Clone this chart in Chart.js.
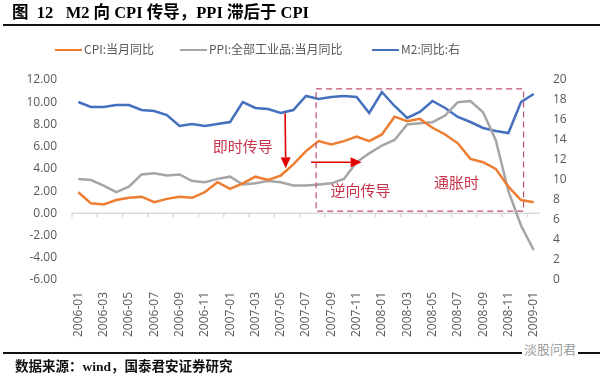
<!DOCTYPE html>
<html>
<head>
<meta charset="utf-8">
<script src="https://cdn.jsdelivr.net/npm/chart.js@4.4.0/dist/chart.umd.min.js"></script>
<style>
  body { margin: 0; background: #fff; }
  #wrap { position: relative; width: 600px; height: 374px; overflow: hidden; font-family: "Noto Sans CJK SC", sans-serif; }
  #myChart { position: absolute; left: 0; top: 0; }
  #title { position: absolute; left: 12px; top: 5px; line-height: 1; font-family: "Liberation Serif", "Noto Sans CJK SC", serif; font-weight: bold; font-size: 16.5px; color: #000; white-space: pre; }
  .rule { position: absolute; left: 3px; width: 597px; height: 2px; background: #111; }
  #legend { position: absolute; top: 40px; left: 0; width: 600px; height: 16px; font-size: 12px; color: #595959; }
  .item { position: absolute; top: 0; white-space: nowrap; }
  .swatch { display: inline-block; width: 27px; height: 2px; vertical-align: middle; margin-right: 2px; position: relative; top: -1px; }
  #source { position: absolute; left: 15px; top: 360px; line-height: 1; font-family: "Liberation Serif", "Noto Sans CJK SC", serif; font-weight: bold; font-size: 13.5px; color: #111; white-space: pre; }
  #mark { position: absolute; left: 522px; top: 339px; font-size: 13px; color: #9a9a9a; background: #fff; padding: 0 2px; }
</style>
</head>
<body>
<div id="wrap">
  <canvas id="myChart" width="600" height="374"></canvas>
  <div id="title">图  12   M2 向 CPI 传导，PPI 滞后于 CPI</div>
  <div class="rule" style="top:24px"></div>
  <div id="legend"></div>
  <div class="rule" style="top:352px"></div>
  <div id="source">数据来源：wind，国泰君安证券研究</div>
  <div id="mark">淡股问君</div>
</div>
<script>
// Month labels along the x axis
var months = ['2006-01','2006-02','2006-03','2006-04','2006-05','2006-06','2006-07','2006-08','2006-09','2006-10','2006-11','2006-12',
              '2007-01','2007-02','2007-03','2007-04','2007-05','2007-06','2007-07','2007-08','2007-09','2007-10','2007-11','2007-12',
              '2008-01','2008-02','2008-03','2008-04','2008-05','2008-06','2008-07','2008-08','2008-09','2008-10','2008-11','2008-12',
              '2009-01'];

// CPI:当月同比 (left axis, %)
var cpiValues = [1.9,0.9,0.8,1.2,1.4,1.5,1.0,1.3,1.5,1.4,1.9,2.8,
                 2.2,2.7,3.3,3.0,3.4,4.4,5.6,6.5,6.2,6.5,6.9,6.5,
                 7.1,8.7,8.3,8.5,7.7,7.1,6.3,4.9,4.6,4.0,2.4,1.2,
                 1.0];

// PPI:全部工业品:当月同比 (left axis, %)
var ppiValues = [3.1,3.0,2.5,1.9,2.4,3.5,3.6,3.4,3.5,2.9,2.8,3.1,
                 3.3,2.6,2.7,2.9,2.8,2.5,2.5,2.6,2.7,3.1,4.6,5.4,
                 6.1,6.6,8.0,8.1,8.2,8.8,10.0,10.1,9.1,6.6,2.0,-1.1,
                 -3.3];

// M2:同比 (right axis, %)
var m2Values = [17.8,17.3,17.3,17.5,17.5,17.0,16.9,16.5,15.4,15.6,15.4,15.6,
                15.8,17.8,17.2,17.1,16.7,17.0,18.4,18.1,18.3,18.4,18.3,16.7,
                18.8,17.4,16.2,16.8,17.9,17.2,16.3,15.8,15.2,14.9,14.7,17.8,
                18.6];

var leftTicks = [-6, 12, 2];   // min, max, step
var rightTicks = [0, 20, 2];

var seriesNames = ['CPI:当月同比', 'PPI:全部工业品:当月同比', 'M2:同比:右'];
var seriesColors = ['#ED7D31', '#A5A5A5', '#4470BE'];

// Annotations in data units (x = month index, y = left axis value)
var boxArea = { x0: 18.8, x1: 35.2, y0: 0.2, y1: 11.2 };
var arrows = [
    { x0: 16.35, y0: 9.0, x1: 16.4, y1: 4.05 },
    { x0: 18.4, y0: 4.6, x1: 22.4, y1: 4.6 }
];
var notes = [
    { text: '即时传导', x: 13.0, y: 6.05 },
    { text: '逆向传导', x: 22.3, y: 2.1 },
    { text: '通胀时', x: 29.9, y: 2.75 }
];

// Build the legend
var legendEl = document.getElementById('legend');
var legendLeft = [55, 180, 372];
for (var k = 0; k < seriesNames.length; k++) {
    var item = document.createElement('div');
    item.className = 'item';
    item.style.left = legendLeft[k] + 'px';
    item.innerHTML = '<span class="swatch" style="background:' + seriesColors[k] + '"></span>' + seriesNames[k];
    legendEl.appendChild(item);
}

function drawArrow(ctx, x0, y0, x1, y1) {
    var ang = Math.atan2(y1 - y0, x1 - x0);
    var head = 11, half = 5;
    var bx = x1 - head * Math.cos(ang), by = y1 - head * Math.sin(ang);
    ctx.beginPath();
    ctx.moveTo(x0, y0);
    ctx.lineTo(bx, by);
    ctx.stroke();
    ctx.beginPath();
    ctx.moveTo(x1, y1);
    ctx.lineTo(bx + half * Math.sin(ang), by - half * Math.cos(ang));
    ctx.lineTo(bx - half * Math.sin(ang), by + half * Math.cos(ang));
    ctx.closePath();
    ctx.fill();
}

// Horizontal axis line drawn at y = 0 with tick marks every two months
var zeroAxisPlugin = {
    id: 'zeroAxis',
    beforeDatasetsDraw: function(chart) {
        var ctx = chart.ctx, area = chart.chartArea;
        var xs = chart.scales.x, ys = chart.scales.y;
        var y0 = ys.getPixelForValue(0);
        ctx.save();
        ctx.strokeStyle = '#d9d9d9';
        ctx.lineWidth = 1.5;
        ctx.beginPath();
        ctx.moveTo(area.left, y0);
        ctx.lineTo(area.right, y0);
        for (var i = 0; i <= months.length; i += 2) {
            var x = xs.getPixelForValue(i - 0.5);
            ctx.moveTo(x, y0);
            ctx.lineTo(x, y0 + 4);
        }
        ctx.stroke();
        ctx.restore();
    }
};

var notesPlugin = {
    id: 'notes',
    afterDatasetsDraw: function(chart) {
        var ctx = chart.ctx;
        var xs = chart.scales.x, ys = chart.scales.y;
        ctx.save();
        // dashed frame
        ctx.strokeStyle = '#C0506A';
        ctx.lineWidth = 1.2;
        ctx.setLineDash([6, 4]);
        var bx0 = xs.getPixelForValue(boxArea.x0), bx1 = xs.getPixelForValue(boxArea.x1);
        var by0 = ys.getPixelForValue(boxArea.y1), by1 = ys.getPixelForValue(boxArea.y0);
        ctx.strokeRect(bx0, by0, bx1 - bx0, by1 - by0);
        ctx.setLineDash([]);
        // arrows
        ctx.strokeStyle = '#E00000';
        ctx.fillStyle = '#E00000';
        ctx.lineWidth = 1.6;
        arrows.forEach(function(a) {
            drawArrow(ctx, xs.getPixelForValue(a.x0), ys.getPixelForValue(a.y0),
                      xs.getPixelForValue(a.x1), ys.getPixelForValue(a.y1));
        });
        // labels
        ctx.fillStyle = '#C8334B';
        ctx.font = '15px "Noto Sans CJK SC"';
        ctx.textAlign = 'center';
        ctx.textBaseline = 'middle';
        notes.forEach(function(n) {
            ctx.fillText(n.text, xs.getPixelForValue(n.x), ys.getPixelForValue(n.y));
        });
        ctx.restore();
    }
};

function makeDataset(idx, values, axis) {
    return {
        label: seriesNames[idx],
        data: values,
        borderColor: seriesColors[idx],
        backgroundColor: seriesColors[idx],
        borderWidth: 2.5,
        pointRadius: 0,
        tension: 0,
        yAxisID: axis
    };
}

var tickFont = { family: '"Open Sans", "Noto Sans", sans-serif', size: 12 };

var ctx = document.getElementById('myChart').getContext('2d');
var myChart = new Chart(ctx, {
    type: 'line',
    data: {
        labels: months,
        datasets: [
            makeDataset(0, cpiValues, 'y'),
            makeDataset(1, ppiValues, 'y'),
            makeDataset(2, m2Values, 'y1')
        ]
    },
    options: {
        responsive: false,
        animation: false,
        layout: { padding: { top: 80, bottom: 34, left: 0, right: 0 } },
        plugins: { legend: { display: false }, tooltip: { enabled: false } },
        scales: {
            x: {
                offset: true,
                grid: { display: false, drawTicks: false },
                border: { display: false },
                ticks: {
                    autoSkip: false,
                    minRotation: 90,
                    maxRotation: 90,
                    padding: 12,
                    color: '#595959',
                    font: tickFont,
                    callback: function(v, i) { return i % 2 === 0 ? months[i] : ''; }
                },
                afterFit: function(s) { s.height = 60; }
            },
            y: {
                position: 'left',
                min: leftTicks[0],
                max: leftTicks[1],
                grid: { display: false, drawTicks: false },
                border: { display: false },
                ticks: {
                    stepSize: leftTicks[2],
                    padding: 15,
                    color: '#595959',
                    font: tickFont,
                    callback: function(v) { return v.toFixed(2); }
                },
                afterFit: function(s) { s.width = 72; }
            },
            y1: {
                position: 'right',
                min: rightTicks[0],
                max: rightTicks[1],
                grid: { display: false, drawTicks: false },
                border: { display: false },
                ticks: {
                    stepSize: rightTicks[2],
                    padding: 13,
                    color: '#595959',
                    font: tickFont
                },
                afterFit: function(s) { s.width = 60; }
            }
        }
    },
    plugins: [zeroAxisPlugin, notesPlugin]
});
</script>
</body>
</html>
